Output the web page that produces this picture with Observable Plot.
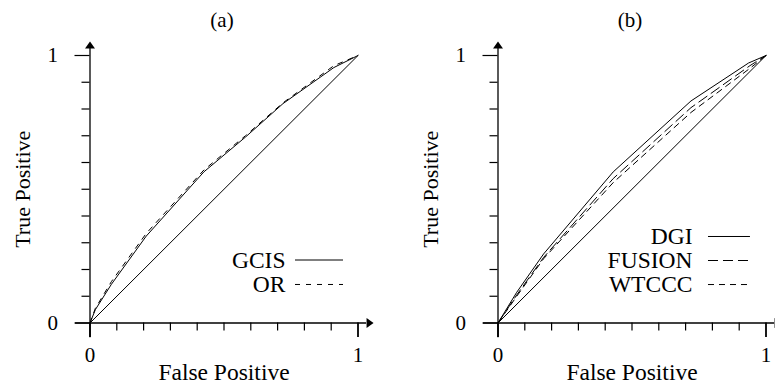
<!DOCTYPE html>
<html><head><meta charset="utf-8">
<script src="https://cdn.jsdelivr.net/npm/d3@7"></script>
<script src="https://cdn.jsdelivr.net/npm/@observablehq/plot@0.6"></script>
<style>
html,body{margin:0;padding:0;background:#fff;overflow:hidden;}
#wrap{position:relative;width:775px;height:384px;overflow:hidden;}
#a,#b{position:absolute;top:0;}
#a{left:0;} #b{left:390px;}
</style></head>
<body><div id="wrap"><div id="a"></div><div id="b"></div></div>
<script>
// ---- data ----
const panelTitles = ["(a)", "(b)"];
const xAxisLabel = "False Positive";
const yAxisLabel = "True Positive";
const minorTicks = [0.1, 0.2, 0.3, 0.4, 0.5, 0.6, 0.7, 0.8, 0.9];
const majorTicks = [0, 1];
const majorTickLabels = ["0", "1"];

const chanceFP = [0, 1];
const chanceTP = [0, 1];

const gcisFP = [0, 0.02, 0.08, 0.21, 0.425, 0.58, 0.72, 0.91, 1];
const gcisTP = [0, 0.05, 0.145, 0.325, 0.565, 0.695, 0.82, 0.955, 1];
const orFP   = [0, 0.02, 0.08, 0.21, 0.425, 0.58, 0.72, 0.91, 1];
const orTP   = [0, 0.055, 0.155, 0.335, 0.572, 0.70, 0.823, 0.962, 1];

const dgiFP    = [0, 0.07, 0.17, 0.43, 0.72, 0.935, 1];
const dgiTP    = [0, 0.115, 0.258, 0.565, 0.83, 0.972, 1];
const fusionFP = [0, 0.07, 0.17, 0.43, 0.72, 0.94, 1];
const fusionTP = [0, 0.105, 0.245, 0.54, 0.805, 0.962, 1];
const wtcccFP  = [0, 0.07, 0.17, 0.43, 0.72, 0.94, 1];
const wtcccTP  = [0, 0.10, 0.24, 0.525, 0.787, 0.952, 1];

const namesA = ["GCIS", "OR"];
const namesB = ["DGI", "FUSION", "WTCCC"];

// ---- styles ----
const dashes = {GCIS: null, OR: "5,6", DGI: null, FUSION: "10,5", WTCCC: "6,5"};
const INK = "#000";
const FONT = "'Liberation Serif','Times New Roman',Times,serif";

const toPts = (fp, tp) => fp.map((x, i) => ({x, y: tp[i]}));
const tickLabel = d => majorTickLabels[majorTicks.indexOf(d)] ?? "";

const triUp = {draw(ctx) { ctx.moveTo(-5, 0); ctx.lineTo(0, -7); ctx.lineTo(5, 0); ctx.closePath(); }};
const triRight = {draw(ctx) { ctx.moveTo(0, -5); ctx.lineTo(7, 0); ctx.lineTo(0, 5); ctx.closePath(); }};

function panel({title, series, legendNames, width, marginLeft, marginRight, legend}) {
  const marks = [
    Plot.ruleX([0], {y1: -0.055, y2: 1.026, stroke: INK, strokeWidth: 1.3}),
    Plot.ruleY([0], {x1: -0.054, x2: 1.032, stroke: INK, strokeWidth: 1.3}),
    Plot.dot([{x: 0, y: 1.026}], {x: "x", y: "y", symbol: triUp, fill: INK, stroke: null}),
    Plot.dot([{x: 1.032, y: 0}], {x: "x", y: "y", symbol: triRight, fill: INK, stroke: null}),
    Plot.axisY({ticks: minorTicks, tickSize: 8, tickFormat: () => "", label: null, strokeWidth: 1.2}),
    Plot.axisX({ticks: minorTicks, tickSize: 8, tickFormat: () => "", label: null, strokeWidth: 1.2}),
    Plot.axisY({ticks: majorTicks, tickSize: 15, tickPadding: 17, tickFormat: tickLabel, fontSize: 21, label: null, strokeWidth: 1.2}),
    Plot.axisX({ticks: majorTicks, tickSize: 14.5, tickPadding: 10, tickFormat: tickLabel, fontSize: 21, label: null, strokeWidth: 1.8}),
    Plot.line(toPts(chanceFP, chanceTP), {x: "x", y: "y", stroke: INK, strokeWidth: 1}),
    Plot.text([title], {frameAnchor: "top", lineAnchor: "middle", textAnchor: "middle", dy: -35, dx: -2, fontSize: 21}),
    Plot.text([xAxisLabel], {frameAnchor: "bottom", lineAnchor: "middle", textAnchor: "middle", dy: 49.5, fontSize: 23.5}),
    Plot.text([yAxisLabel], {frameAnchor: "left", lineAnchor: "middle", textAnchor: "middle", rotate: -90, dx: -67.5, fontSize: 22})
  ];
  series.forEach(s => {
    marks.push(Plot.line(toPts(s.fp, s.tp), {x: "x", y: "y", stroke: INK, strokeWidth: 1, strokeDasharray: dashes[s.name]}));
  });
  legendNames.forEach((name, i) => {
    const yy = legend.y0 - i * legend.step;
    marks.push(Plot.text([name], {x: legend.textX, y: yy, textAnchor: "end", lineAnchor: "middle", fontSize: 23.5}));
    marks.push(Plot.ruleY([yy], {x1: legend.lineX1, x2: legend.lineX2, stroke: INK, strokeWidth: 1, strokeDasharray: dashes[name]}));
  });
  return Plot.plot({
    width, height: 384,
    marginLeft, marginRight, marginTop: 55, marginBottom: 61.5,
    x: {domain: [0, 1]}, y: {domain: [0, 1]},
    style: {fontFamily: FONT, fontSize: "20px", color: INK, background: "transparent", overflow: "visible"},
    marks
  });
}

document.getElementById("a").append(panel({
  title: panelTitles[0],
  series: [{name: "GCIS", fp: gcisFP, tp: gcisTP}, {name: "OR", fp: orFP, tp: orTP}],
  legendNames: namesA,
  width: 390, marginLeft: 89.5, marginRight: 32.5,
  legend: {textX: 0.7295, lineX1: 0.7668, lineX2: 0.9459, y0: 0.2355, step: 0.0915}
}));
document.getElementById("b").append(panel({
  title: panelTitles[1],
  series: [{name: "DGI", fp: dgiFP, tp: dgiTP}, {name: "FUSION", fp: fusionFP, tp: fusionTP}, {name: "WTCCC", fp: wtcccFP, tp: wtcccTP}],
  legendNames: namesB,
  width: 385, marginLeft: 107.5, marginRight: 9.5,
  legend: {textX: 0.7257, lineX1: 0.7854, lineX2: 0.942, y0: 0.3234, step: 0.0898}
}));
</script>
</body></html>
